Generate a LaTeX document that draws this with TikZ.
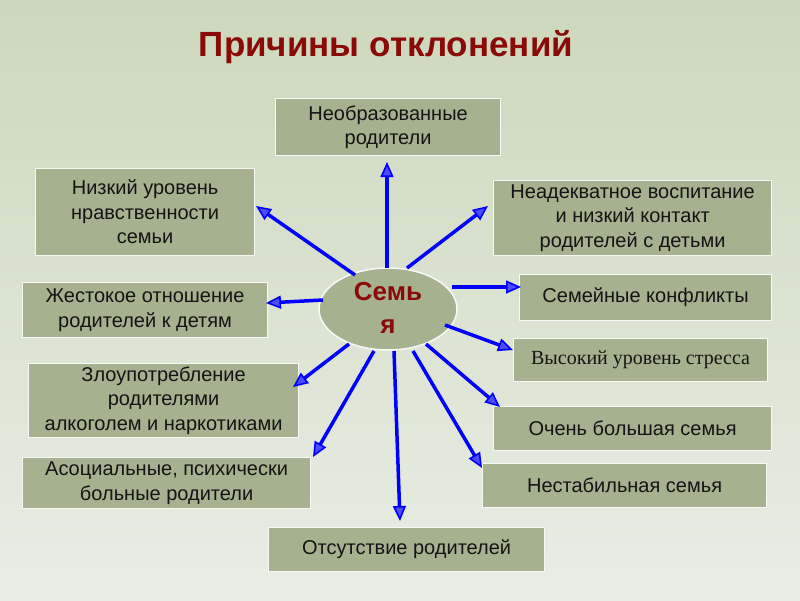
\documentclass[tikz,border=0pt]{standalone}
\usepackage{fontspec}
\setmainfont{Liberation Sans}
\newfontfamily\serifrm{Liberation Serif}
\usetikzlibrary{arrows.meta,shapes.geometric}
\definecolor{bgtop}{HTML}{CCD8BC}
\definecolor{bgbot}{HTML}{E9EDE5}
\definecolor{boxfill}{HTML}{A6B18F}
\definecolor{titlered}{HTML}{8A0A0A}
\definecolor{txt}{HTML}{141414}
\tikzset{
  box/.style={draw=white!92!boxfill, line width=1.2pt, fill=boxfill, anchor=north west,
    inner sep=0pt, align=center, text=txt, font=\fontsize{20}{24.5}\selectfont},
  ray/.style={draw=blue, line width=3.5pt,
    -{Triangle[length=15pt,width=13pt,line width=1.6pt,fill=blue!70!white]}},
}
\begin{document}
\begin{tikzpicture}[x=1pt,y=-1pt]
\useasboundingbox (0,0) rectangle (800,600);
\shade[top color=bgtop, bottom color=bgbot] (0,0) rectangle (800,600);

\node[font=\fontsize{35}{38}\selectfont\bfseries, text=titlered] (title) at (386,47) {Причины отклонений};

\node[box, minimum width=225pt, minimum height=57pt] (b1) at (275,98) {Необразованные\\родители};
\node[box, minimum width=219pt, minimum height=87pt] (b2) at (35,168) {Низкий уровень\\нравственности\\семьи};
\node[box, minimum width=278pt, minimum height=75pt] (b3) at (493,180) {Неадекватное воспитание\\и низкий контакт\\родителей с детьми};
\node[box, minimum width=245pt, minimum height=55pt] (b4) at (22,282) {Жестокое отношение\\родителей к детям};
\node[box, minimum width=252pt, minimum height=46pt] (b5) at (519,274) {Семейные конфликты};
\node[box, minimum width=254pt, minimum height=43pt, font=\serifrm\fontsize{20}{24}\selectfont] (b6) at (513,338) {Высокий уровень стресса};
\node[box, minimum width=270pt, minimum height=74pt] (b7) at (28,363) {Злоупотребление\\родителями\\алкоголем и наркотиками};
\node[box, minimum width=278pt, minimum height=44pt] (b8) at (493,406) {Очень большая семья};
\node[box, minimum width=288pt, minimum height=51pt] (b9) at (22,457) {Асоциальные, психически\\больные родители};
\node[box, minimum width=284pt, minimum height=44pt] (b10) at (482,463) {Нестабильная семья};
\node[box, minimum width=276pt, minimum height=44pt] (b11) at (268,527) {Отсутствие родителей};

\node[ellipse, draw=white!92!boxfill, line width=1.5pt, fill=boxfill, minimum width=138pt, minimum height=82pt, inner sep=0pt] (fam) at (388,309) {};
\node[font=\fontsize{26}{33}\selectfont\bfseries, text=titlered, align=center] (famtext) at (388,308) {Семь\\я};

% ray start and end points
\coordinate (s1) at (387,268); \coordinate (e1) at (387,162);
\coordinate (s2) at (355,275); \coordinate (e2) at (256,206);
\coordinate (s3) at (407,268); \coordinate (e3) at (488,206);
\coordinate (s4) at (323,300); \coordinate (e4) at (266,303);
\coordinate (s5) at (452,287); \coordinate (e5) at (521,287);
\coordinate (s6) at (445,325); \coordinate (e6) at (513,350);
\coordinate (s7) at (349,344); \coordinate (e7) at (293,387);
\coordinate (s8) at (374,351); \coordinate (e8) at (313,457);
\coordinate (s9) at (394,351); \coordinate (e9) at (400,521);
\coordinate (s10) at (413,351); \coordinate (e10) at (482,468);
\coordinate (s11) at (426,344); \coordinate (e11) at (500,407);

\foreach \i in {1,...,11} { \draw[ray] (s\i) -- (e\i); }
\end{tikzpicture}
\end{document}
